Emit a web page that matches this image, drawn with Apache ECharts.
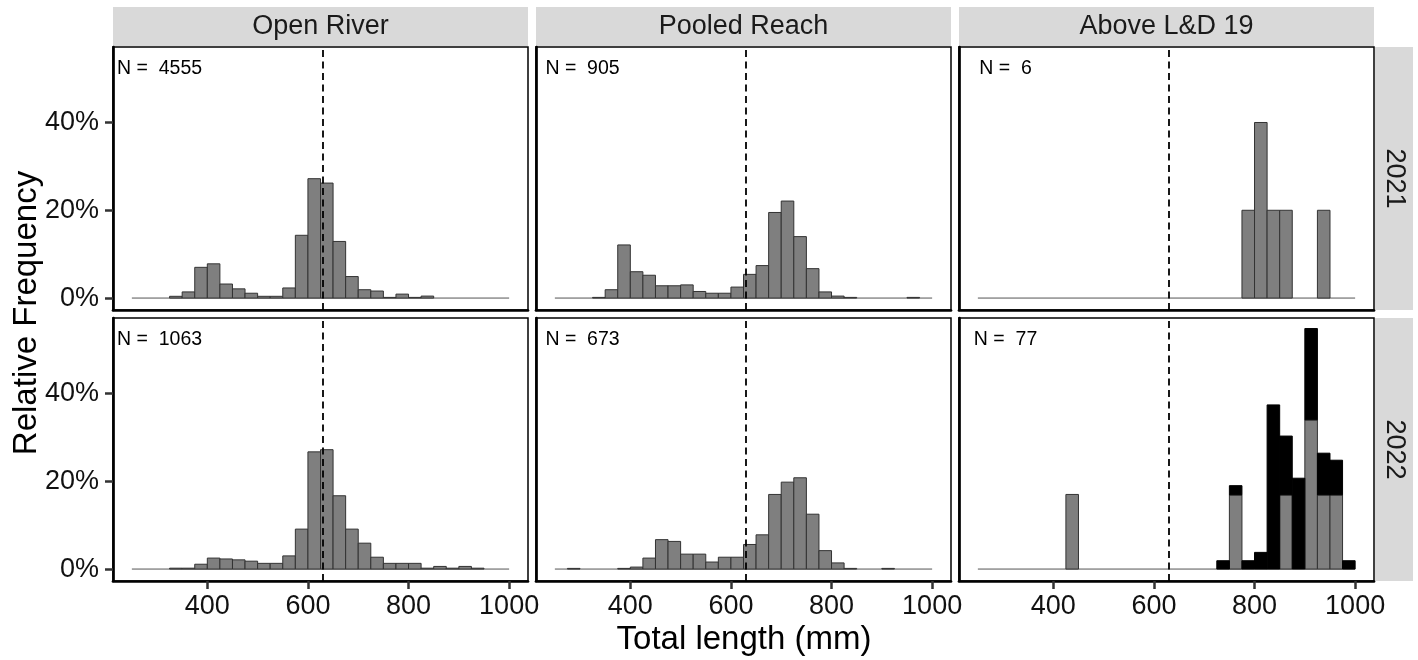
<!DOCTYPE html>
<html>
<head>
<meta charset="utf-8">
<script src="https://cdn.jsdelivr.net/npm/echarts@6/dist/echarts.min.js"></script>
<style>html,body{margin:0;padding:0;background:#fff;}#chart{width:1418px;height:660px;}</style>
</head>
<body>
<div id="chart"></div>
<script>
// ---------------- data ----------------
const binStarts = [250,275,300,325,350,375,400,425,450,475,500,525,550,575,600,625,650,675,700,725,750,775,800,825,850,875,900,925,950,975];
const binWidth = 25;
const facetCols = ['Open River', 'Pooled Reach', 'Above L&D 19'];
const facetRows = ['2021', '2022'];
const sampleSizes = [[4555, 905, 6], [1063, 673, 77]];
const meanLength = 630;
const xTicks = [400, 600, 800, 1000];
const xTickLabels = ['400', '600', '800', '1000'];
const yTicks = [0, 20, 40];
const yTickLabels = ['0%', '20%', '40%'];

// relative frequency (%) per 25 mm bin
const openRiver2021 = [0,0,0,0.4,1.4,7.0,7.8,3.2,2.1,1.1,0.4,0.4,2.3,14.3,27.2,26.2,12.9,4.9,1.9,1.6,0.15,0.9,0.15,0.45,0,0,0,0,0,0];
const pooled2021    = [0,0,0,0.15,1.9,12.1,6.0,5.2,2.8,2.8,3.0,1.5,1.1,1.1,2.5,5.4,7.4,19.5,22.1,14.0,6.7,1.4,0.45,0.15,0,0,0,0,0.15,0];
const above2021     = [0,0,0,0,0,0,0,0,0,0,0,0,0,0,0,0,0,0,0,0,0,20,40,20,20,0,0,20,0,0];
const openRiver2022 = [0,0,0,0.2,0.2,1.1,2.5,2.3,2.1,1.8,1.3,1.3,3.0,9.1,26.7,27.2,16.7,9.1,5.9,2.7,1.3,1.3,1.3,0.2,0.6,0.2,0.6,0.2,0,0];
const pooled2022    = [0,0.15,0,0,0,0.15,0.45,2.5,6.7,6.3,3.4,3.4,1.6,2.7,2.7,5.6,7.8,17.0,19.8,20.8,12.5,4.2,1.4,0.15,0,0,0.15,0,0,0];
const above2022Gray = [0,0,0,0,0,0,0,17.0,0,0,0,0,0,0,0,0,0,0,0,0,16.9,0,0,0,16.9,0,34.0,16.9,16.9,0];
const above2022Black= [0,0,0,0,0,0,0,0,0,0,0,0,0,0,0,0,0,0,0,1.9,2.1,1.9,3.8,37.4,13.4,20.7,20.8,9.5,7.9,1.9];

const panelLayers = [
  [[openRiver2021], [pooled2021], [above2021]],
  [[openRiver2022], [pooled2022], [above2022Gray, above2022Black]]
];

// ---------------- style / layout ----------------
const FONT = "'Liberation Sans', Arial, sans-serif";
const layerFill = ['#7f7f7f', '#000000'];
const layerStroke = ['#333333', '#000000'];
const xMin = 212.5, xMax = 1037.5, yMin = -2.72, yMax = 57.2;
const left0 = 113, colW = 415, gapX = 8, top0 = 47, rowH = 263, gapY = 8;
const labelPos = [305, 52.3];

const grids = [], xAxes = [], yAxes = [], series = [], graphics = [];
let idx = 0;
for (let r = 0; r < 2; r++) {
  for (let c = 0; c < 3; c++) {
    const gl = left0 + c * (colW + gapX);
    const gt = top0 + r * (rowH + gapY);
    grids.push({left: gl, top: gt, width: colW, height: rowH, show: true,
      borderColor: '#000', borderWidth: 1.5, backgroundColor: '#fff', containLabel: false});
    const bottomRow = r === 1, leftCol = c === 0;
    xAxes.push({type: 'value', gridIndex: idx, min: xMin, max: xMax,
      axisLine: {show: true, onZero: false, lineStyle: {color: '#000', width: 2.7}},
      axisTick: {show: bottomRow, length: 8, customValues: xTicks, lineStyle: {color: '#333', width: 2.5}},
      axisLabel: {show: bottomRow, customValues: xTicks, margin: 12, fontSize: 27, fontFamily: FONT, color: '#111',
        formatter: v => { const k = xTicks.indexOf(v); return k >= 0 ? xTickLabels[k] : ''; }},
      splitLine: {show: false}});
    yAxes.push({type: 'value', gridIndex: idx, min: yMin, max: yMax,
      axisLine: {show: true, onZero: false, lineStyle: {color: '#000', width: 2.7}},
      axisTick: {show: leftCol, length: 8, customValues: yTicks, lineStyle: {color: '#333', width: 2.5}},
      axisLabel: {show: leftCol, customValues: yTicks, margin: 14, fontSize: 27, fontFamily: FONT, color: '#111',
        formatter: v => { const k = yTicks.indexOf(v); return k >= 0 ? yTickLabels[k] : ''; }},
      splitLine: {show: false}});

    // baseline (empty bins)
    series.push({type: 'line', xAxisIndex: idx, yAxisIndex: idx, silent: true, symbol: 'none',
      data: [[binStarts[0], 0], [binStarts[binStarts.length - 1] + binWidth, 0]],
      lineStyle: {color: '#555', width: 1}, z: 1});

    // histogram bars (stacked layers)
    const items = [];
    const cum = binStarts.map(() => 0);
    panelLayers[r][c].forEach((vals, li) => {
      vals.forEach((v, i) => {
        if (v > 0) {
          items.push([binStarts[i], binStarts[i] + binWidth, cum[i], cum[i] + v, li]);
          cum[i] += v;
        }
      });
    });
    series.push({type: 'custom', xAxisIndex: idx, yAxisIndex: idx, silent: true, z: 2,
      encode: {x: [0, 1], y: [2, 3]},
      data: items,
      renderItem: (params, api) => {
        const p0 = api.coord([api.value(0), api.value(3)]);
        const p1 = api.coord([api.value(1), api.value(2)]);
        const li = api.value(4);
        return {type: 'rect', shape: {x: p0[0], y: p0[1], width: p1[0] - p0[0], height: p1[1] - p0[1]},
          style: {fill: layerFill[li], stroke: layerStroke[li], lineWidth: 1}};
      }});

    // sample size label
    const nText = 'N =  ' + sampleSizes[r][c];
    series.push({type: 'custom', xAxisIndex: idx, yAxisIndex: idx, silent: true, z: 4,
      data: [labelPos],
      renderItem: (params, api) => {
        const p = api.coord([api.value(0), api.value(1)]);
        return {type: 'text', x: p[0], y: p[1],
          style: {text: nText, align: 'center', verticalAlign: 'middle', fontSize: 19.5, fontFamily: FONT, fill: '#000'}};
      }});

    // reference dashed line
    series.push({type: 'line', xAxisIndex: idx, yAxisIndex: idx, data: [], silent: true, z: 5,
      markLine: {silent: true, symbol: ['none', 'none'], label: {show: false},
        lineStyle: {type: [7, 4.5], color: '#000', width: 1.8},
        data: [{xAxis: meanLength}], animation: false}});
    idx++;
  }
}

// strips
for (let c = 0; c < 3; c++) {
  const gl = left0 + c * (colW + gapX);
  graphics.push({type: 'rect', shape: {x: gl, y: 7, width: colW, height: 39}, style: {fill: '#d9d9d9'}, silent: true});
  graphics.push({type: 'text', x: gl + colW / 2, y: 27, silent: true,
    style: {text: facetCols[c], align: 'center', verticalAlign: 'middle', fontSize: 27, fontFamily: FONT, fill: '#1a1a1a'}});
}
for (let r = 0; r < 2; r++) {
  const gt = top0 + r * (rowH + gapY);
  graphics.push({type: 'rect', shape: {x: 1375, y: gt, width: 38, height: rowH}, style: {fill: '#d9d9d9'}, silent: true});
  graphics.push({type: 'text', x: 1394, y: gt + rowH / 2, rotation: -Math.PI / 2, silent: true,
    style: {text: facetRows[r], align: 'center', verticalAlign: 'middle', fontSize: 27, fontFamily: FONT, fill: '#1a1a1a'}});
}
// axis titles
graphics.push({type: 'text', x: 744, y: 640, silent: true,
  style: {text: 'Total length (mm)', align: 'center', verticalAlign: 'middle', fontSize: 33, fontFamily: FONT, fill: '#000'}});
graphics.push({type: 'text', x: 27, y: 313, rotation: Math.PI / 2, silent: true,
  style: {text: 'Relative Frequency', align: 'center', verticalAlign: 'middle', fontSize: 33, fontFamily: FONT, fill: '#000'}});

const chart = echarts.init(document.getElementById('chart'), null, {renderer: 'canvas'});
chart.setOption({
  animation: false,
  backgroundColor: '#fff',
  grid: grids, xAxis: xAxes, yAxis: yAxes, series: series,
  graphic: graphics
});
</script>
</body>
</html>
